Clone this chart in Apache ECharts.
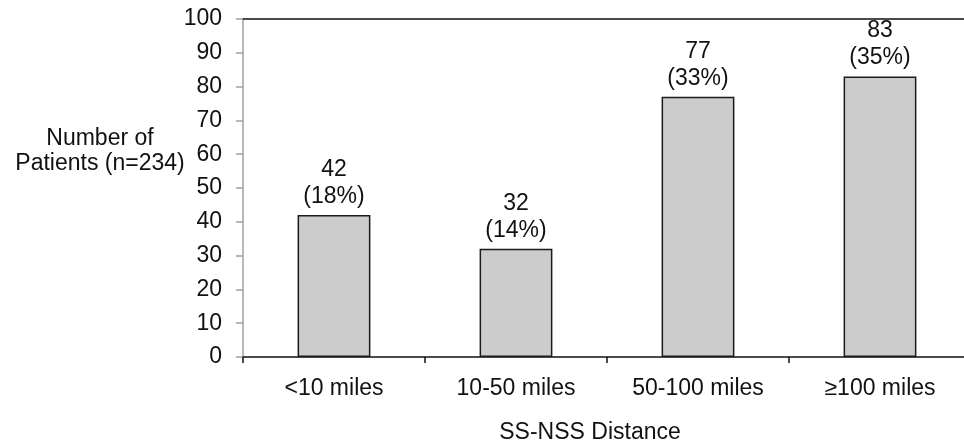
<!DOCTYPE html>
<html><head><meta charset="utf-8">
<script src="https://cdn.jsdelivr.net/npm/echarts@6/dist/echarts.min.js"></script>
<style>html,body{margin:0;padding:0;background:#fff}#c{width:964px;height:448px}</style>
</head><body><div id="c"></div>
<script>
const categories = ['<10 miles', '10-50 miles', '50-100 miles', '≥100 miles'];
const patients = [42, 32, 77, 83];
const percents = ['18%', '14%', '33%', '35%'];
const yTicks = [0, 10, 20, 30, 40, 50, 60, 70, 80, 90, 100];

const chart = echarts.init(document.getElementById('c'));
const font = 'Liberation Sans, Arial, sans-serif';
const fs = 23;
chart.setOption({
  animation: false,
  grid: { left: 243, width: 728, top: 19, bottom: 91, containLabel: false, outerBoundsMode: 'none' },
  xAxis: [{
    type: 'category', data: categories, position: 'bottom',
    axisLine: { lineStyle: { color: '#111', width: 1.5 } },
    axisTick: { show: true, length: 6, lineStyle: { color: '#111', width: 1.5 } },
    axisLabel: { color: '#111', fontSize: fs, fontFamily: font, margin: 20 }
  }, {
    type: 'category', data: categories, position: 'top',
    axisLine: { show: true, lineStyle: { color: '#111', width: 1.5 } },
    axisTick: { show: false }, axisLabel: { show: false }
  }],
  yAxis: {
    type: 'value', min: yTicks[0], max: yTicks[yTicks.length - 1], interval: 10,
    axisLine: { show: true, lineStyle: { color: '#a0a0a0', width: 1.5 } },
    axisTick: { show: true, length: 7, lineStyle: { color: '#a0a0a0', width: 1.5 } },
    splitLine: { show: false },
    axisLabel: { color: '#111', fontSize: fs, fontFamily: font, margin: 21 }
  },
  graphic: [
    { type: 'text', style: { x: 100, y: 151, text: 'Number of\nPatients (n=234)', align: 'center', verticalAlign: 'middle', font: fs + 'px ' + font, fill: '#111', lineHeight: 25 } },
    { type: 'text', style: { x: 590, y: 433, text: 'SS-NSS Distance', align: 'center', verticalAlign: 'middle', font: fs + 'px ' + font, fill: '#111' } }
  ],
  series: [{
    type: 'bar', data: patients, barWidth: '40%',
    itemStyle: { color: '#cccccc', borderColor: '#1a1a1a', borderWidth: 1.5 },
    label: {
      show: true, position: 'top', distance: 5, color: '#111', fontSize: fs, fontFamily: font, lineHeight: 27,
      formatter: p => p.value + '\n(' + percents[p.dataIndex] + ')'
    }
  }]
});
</script></body></html>
